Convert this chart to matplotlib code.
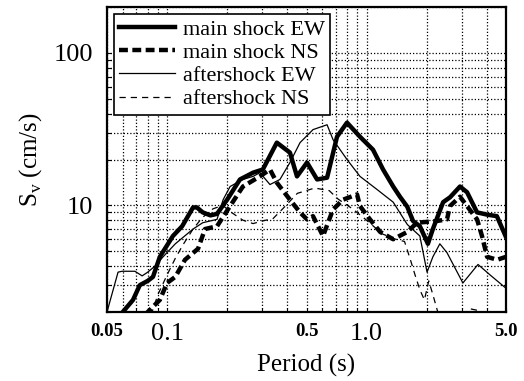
import numpy as np
import matplotlib
matplotlib.use('Agg')
import matplotlib.pyplot as plt

plt.rcParams['font.family'] = ['Liberation Serif', 'DejaVu Serif']
plt.rcParams['mathtext.fontset'] = 'custom'
plt.rcParams['mathtext.rm'] = 'Liberation Serif'

# main shock EW
main_ew_T = [0.060, 0.0675, 0.073, 0.080, 0.085, 0.092, 0.107, 0.119, 0.135, 0.141,
             0.151, 0.165, 0.178, 0.200, 0.232, 0.270, 0.302, 0.355, 0.413, 0.448,
             0.503, 0.565, 0.634, 0.711, 0.798, 0.927, 1.077, 1.21, 1.36, 1.47,
             1.60, 1.71, 1.85, 2.03, 2.15, 2.42, 2.62, 2.94, 3.19, 3.58, 4.02, 4.5, 5.0]
main_ew_v = [2.0, 2.4, 3.0, 3.2, 3.4, 4.6, 6.3, 7.3, 9.7, 9.7,
             9.0, 8.6, 8.8, 10.9, 14.8, 16.4, 17.2, 25.8, 22.2, 15.5,
             19.1, 14.8, 15.2, 28.2, 34.9, 28.2, 23.2, 17.2, 13.3, 11.4,
             9.8, 7.9, 7.3, 5.6, 7.0, 10.5, 11.3, 13.3, 12.2, 9.0, 8.7, 8.5, 6.2]

# main shock NS
main_ns_T = [0.078, 0.080, 0.092, 0.100, 0.110, 0.123, 0.143, 0.155, 0.178, 0.207,
             0.240, 0.292, 0.328, 0.355, 0.413, 0.464, 0.503, 0.539, 0.605, 0.679,
             0.762, 0.896, 0.927, 1.04, 1.17, 1.36, 1.60, 1.79, 2.25, 2.53,
             2.62, 2.94, 3.58, 3.79, 4.02, 4.51, 5.0]
main_ns_v = [1.9, 2.0, 2.4, 3.1, 3.4, 4.4, 5.2, 7.0, 7.3, 9.9,
             13.3, 15.5, 17.2, 14.1, 10.9, 9.0, 8.1, 8.5, 6.3, 9.4,
             10.9, 11.8, 9.9, 8.1, 6.7, 6.0, 6.7, 7.7, 7.9, 8.1,
             9.9, 11.4, 8.1, 6.3, 4.6, 4.4, 4.6]

# aftershock EW
after_ew_T = [0.05, 0.0568, 0.0595, 0.069, 0.075, 0.080, 0.087, 0.0955, 0.110, 0.135,
              0.151, 0.178, 0.191, 0.207, 0.240, 0.270, 0.292, 0.328, 0.368, 0.413,
              0.464, 0.539, 0.634, 0.679, 0.798, 0.927, 1.13, 1.36, 1.60, 1.85,
              2.01, 2.15, 2.33, 2.53, 3.04, 3.62, 4.16, 4.94]
after_ew_v = [2.0, 3.65, 3.7, 3.7, 3.45, 3.65, 4.0, 4.6, 5.6, 7.0,
              7.7, 8.1, 10.9, 13.3, 14.8, 15.5, 16.4, 13.7, 14.8, 19.1,
              25.8, 31.4, 33.8, 27.0, 20.0, 15.5, 12.7, 10.5, 7.5, 6.3,
              3.65, 4.6, 5.6, 4.9, 3.1, 4.1, 3.5, 2.9]

# aftershock NS
after_ns_T = [0.083, 0.09, 0.10, 0.11, 0.12, 0.135, 0.15, 0.17, 0.19, 0.21,
              0.24, 0.27, 0.30, 0.34, 0.38, 0.45, 0.55, 0.65, 0.72, 0.85,
              1.0, 1.2, 1.4, 1.55, 1.65, 1.75, 1.85, 1.95, 2.05, 2.15,
              2.3, 3.0, 3.3, 3.6, 3.9, 5.0]
after_ns_v = [1.9, 2.6, 3.5, 4.5, 5.5, 7.0, 8.3, 9.5, 10.0, 9.0,
              8.0, 7.6, 7.9, 8.2, 9.5, 12.0, 13.0, 12.5, 11.0, 9.5,
              8.0, 6.5, 6.0, 5.8, 4.5, 3.5, 2.8, 2.4, 3.2, 2.6,
              1.9, 1.8, 2.1, 2.05, 1.8, 1.5]

xtick_vals = [0.05, 0.1, 0.5, 1.0, 5.0]
xtick_labels = ['0.05', '0.1', '0.5', '1.0', '5.0']

fig = plt.figure(figsize=(5.24, 3.81), dpi=100)
ax = fig.add_axes([107/524, 1-312/381, (506-107)/524, (312-7)/381])

ax.plot(main_ew_T, main_ew_v, color='black', lw=3.2, solid_joinstyle='round',
        label='main shock EW', zorder=4)
ax.plot(main_ns_T, main_ns_v, color='black', lw=3.2, ls=(0, (2.0, 1.0)),
        label='main shock NS', zorder=4)
ax.plot(after_ew_T, after_ew_v, color='black', lw=0.9,
        label='aftershock EW', zorder=3)
ax.plot(after_ns_T, after_ns_v, color='black', lw=0.9, ls=(0, (5, 4)),
        label='aftershock NS', zorder=3)

ax.set_xscale('log')
ax.set_yscale('log')
ax.set_xlim(0.05, 5.0)
ax.set_ylim(2, 200)

ax.set_xticks(xtick_vals)
ax.set_xticklabels(xtick_labels)
for lab, txt in zip(ax.get_xticklabels(), xtick_labels):
    if txt in ('0.1', '1.0'):
        lab.set_fontsize(19)
    else:
        lab.set_fontsize(13.5)
        lab.set_fontweight('bold')
ax.set_yticks([10, 100])
ax.set_yticklabels(['10', '100'], fontsize=19)
ax.yaxis.set_minor_formatter(matplotlib.ticker.NullFormatter())
ax.xaxis.set_minor_formatter(matplotlib.ticker.NullFormatter())

ax.tick_params(which='both', direction='in', length=3, width=0.8)
ax.tick_params(axis='x', pad=8)
ax.tick_params(axis='y', pad=10)

ax.grid(True, which='both', color='black', lw=0.9, ls=(0, (1, 1.6)))
for s in ax.spines.values():
    s.set_linewidth(1.6)

ax.set_xlabel('Period (s)', fontsize=18, labelpad=6)
ax.set_ylabel(r'S$_\mathrm{v}$ (cm/s)', fontsize=18, labelpad=7)

leg = ax.legend(loc='upper left', fontsize=16, handlelength=2.5,
                handletextpad=0.35, labelspacing=0.12, borderpad=0.25,
                borderaxespad=0.3, fancybox=False, framealpha=1,
                edgecolor='black')
leg.get_frame().set_linewidth(1.2)
leg.set_zorder(5)

fig.savefig('out.png', dpi=100)
